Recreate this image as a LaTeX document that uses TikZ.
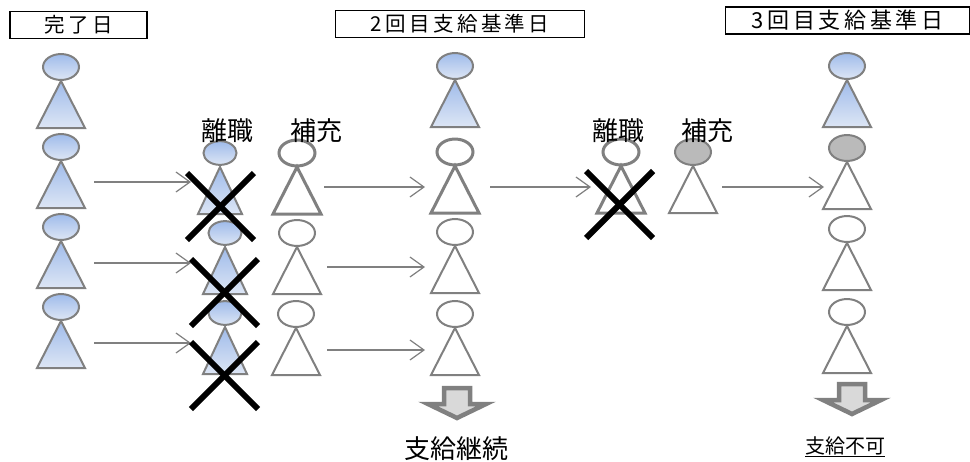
\documentclass[tikz,border=0pt]{standalone}
\usepackage{fontspec}
\setmainfont{Noto Sans CJK JP}
\usetikzlibrary{shapes.geometric,arrows.meta}
\definecolor{pg}{HTML}{808080}
\definecolor{bluetop}{HTML}{9FBBEA}
\definecolor{bluebot}{HTML}{DDE6F5}
\tikzset{
  headshape/.style={ellipse,draw=pg,inner sep=0pt,minimum width=36pt,minimum height=26pt},
  bodyshape/.style={draw=pg,line join=miter},
  bluefill/.style={top color=bluetop,bottom color=bluebot},
  whitefill/.style={fill=white},
  greyfill/.style={fill=black!27},
  conn/.style={draw=pg,line width=1.3pt,-{Straight Barb[length=14pt,width=20pt,line width=1.2pt]}},
  cross/.style={line width=6pt,black},
  titlebox/.style={draw=black,line width=1.4pt,minimum height=27pt,inner sep=0pt,font=\fontsize{20.5}{20.5}\selectfont},
  lab/.style={inner sep=0pt,font=\fontsize{26}{26}\selectfont},
  arrowout/.style={draw=pg,fill=black!15,line width=4.5pt,line join=miter}
}
% name, x, head y, head fill, body fill, line width, half width
\newcommand{\person}[7]{%
  \node[headshape,#4,line width=#6pt,minimum width=#7pt*1.5,minimum height=#7pt*1.08] (#1) at (#2,#3) {};
  \path[bodyshape,#5,line width=#6pt] (#2,#3+14) -- (#2+#7,#3+61) -- (#2-#7,#3+61) -- cycle;
}
\newcommand{\outarrow}[3]{%
  \coordinate (#1) at (#2,#3);
  \path[arrowout] (#1) ++(-13,3) -- ++(26,0) -- ++(0,16) -- ++(16,0) -- ++(-29,14) -- ++(-29,-14) -- ++(16,0) -- cycle;
}
\begin{document}
\begin{tikzpicture}[x=1pt,y=-1pt]
\useasboundingbox (0,0) rectangle (970,461);
\fill[white] (0,0) rectangle (970,461);
% title boxes
\node[titlebox,minimum width=137pt] (t1) at (78.5,25) {完\,了\,日};
\node[titlebox,minimum width=249pt] (t2) at (460,24) {2\,回\,目\,支\,給\,基\,準\,日};
\node[titlebox,minimum width=244pt,anchor=west,font=\fontsize{22}{22}\selectfont] (t3) at (725,20.5) {3\,回\,目\,支\,給\,基\,準\,日};
% column 1
\person{a1}{61}{67}{bluefill}{bluefill}{2}{24}
\person{a2}{61}{147}{bluefill}{bluefill}{2}{24}
\person{a3}{61}{227}{bluefill}{bluefill}{2}{24}
\person{a4}{61}{307}{bluefill}{bluefill}{2}{24}
% leavers
\person{b1}{220}{153}{bluefill}{bluefill}{2}{22}
\person{b2}{225}{233}{bluefill}{bluefill}{2}{22}
\person{b3}{225}{313}{bluefill}{bluefill}{2}{22}
% replacements
\person{c1}{297}{153}{whitefill}{whitefill}{3}{24}
\person{c2}{297}{233}{whitefill}{whitefill}{2}{24}
\person{c3}{296}{314}{whitefill}{whitefill}{2}{24}
% column 2
\person{d1}{455}{66}{bluefill}{bluefill}{2}{24}
\person{d2}{455}{152}{whitefill}{whitefill}{3}{24}
\person{d3}{455}{232}{whitefill}{whitefill}{2}{24}
\person{d4}{455}{314}{whitefill}{whitefill}{2}{24}
% second leaver / replacement
\person{e1}{621}{152}{whitefill}{whitefill}{3}{24}
\person{e2}{693}{152}{greyfill}{whitefill}{2}{24}
% column 3
\person{f1}{847}{66}{bluefill}{bluefill}{2}{24}
\person{f2}{847}{148}{greyfill}{whitefill}{2}{24}
\person{f3}{847}{229}{whitefill}{whitefill}{2}{24}
\person{f4}{847}{312}{whitefill}{whitefill}{2}{24}
% connector ends
\coordinate (s1) at (94,182);  \coordinate (g1) at (191,182);
\coordinate (s2) at (94,263);  \coordinate (g2) at (191,263);
\coordinate (s3) at (94,343);  \coordinate (g3) at (191,343);
\coordinate (s4) at (324,187); \coordinate (g4) at (425,187);
\coordinate (s5) at (327,267); \coordinate (g5) at (425,267);
\coordinate (s6) at (327,350); \coordinate (g6) at (425,350);
\coordinate (s7) at (490,187); \coordinate (g7) at (591,187);
\coordinate (s8) at (722,187); \coordinate (g8) at (824,187);
\foreach \i in {1,...,8}{\draw[conn] (s\i) -- (g\i);}
% crosses
\coordinate (x1a) at (187,173); \coordinate (x1b) at (254,240);
\coordinate (x1c) at (187,240); \coordinate (x1d) at (254,173);
\coordinate (x2a) at (191,259); \coordinate (x2b) at (258,326);
\coordinate (x2c) at (191,326); \coordinate (x2d) at (258,259);
\coordinate (x3a) at (191,342); \coordinate (x3b) at (258,409);
\coordinate (x3c) at (191,409); \coordinate (x3d) at (258,342);
\coordinate (x4a) at (586,171); \coordinate (x4b) at (653,238);
\coordinate (x4c) at (586,238); \coordinate (x4d) at (653,171);
\foreach \i in {1,...,4}{\draw[cross] (x\i a) -- (x\i b); \draw[cross] (x\i c) -- (x\i d);}
% labels
\node[lab] (l1) at (227,131) {離職};
\node[lab] (l2) at (316,131) {補充};
\node[lab] (l3) at (618,131) {離職};
\node[lab] (l4) at (707,131) {補充};
% outcome arrows
\outarrow{o1}{457}{385}
\outarrow{o2}{852}{381}
\node[lab] (r1) at (456,449) {支給継続};
\node[lab,font=\fontsize{20}{20}\selectfont] (r2) at (845,447) {\underline{支給不可}};
\end{tikzpicture}
\end{document}
